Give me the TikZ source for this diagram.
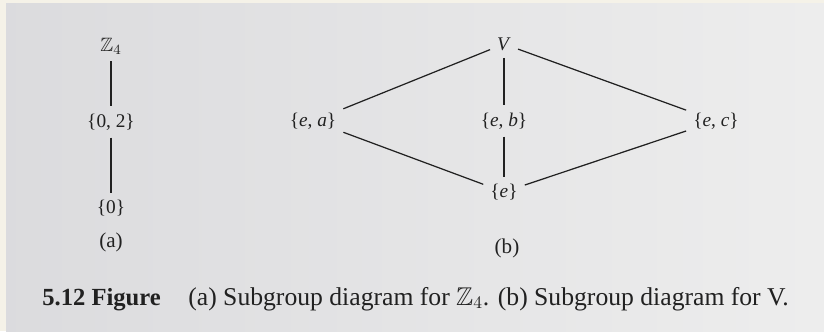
\documentclass[tikz,border=0pt]{standalone}
\usepackage{amssymb}
\usepackage{fontspec}
\setmainfont{Liberation Serif}
\usetikzlibrary{positioning}
\definecolor{pagegray}{rgb}{0.86,0.86,0.87}
\definecolor{pagelight}{rgb}{0.93,0.93,0.93}
\definecolor{edgecream}{rgb}{0.96,0.95,0.91}
\definecolor{ink}{rgb}{0.13,0.13,0.13}

\begin{document}
\begin{tikzpicture}[x=0.02cm,y=-0.02cm,font=\fontsize{11}{13}\selectfont,
  g/.style={text=ink,inner sep=2pt},
  e/.style={draw=ink,line width=0.7pt,shorten >=2pt,shorten <=2pt}]
\useasboundingbox (0,0) rectangle (824,331);
\fill[edgecream] (0,0) rectangle (824,331);
\shade[left color=pagegray,right color=pagelight] (6,4) rectangle (824,331);
% (a) subgroups of Z_4
\node[g] (z4) at (111,46) {$\mathbb{Z}_4$};
\node[g] (z02) at (111,122) {\{0, 2\}};
\node[g] (z0) at (111,208) {\{0\}};
\node[g,font=\fontsize{12}{14}\selectfont] (la) at (111,242) {(a)};
\draw[e] (z4) -- (z02);
\draw[e] (z02) -- (z0);
% (b) subgroups of V
\node[g] (v) at (504,44) {\textit{V}};
\node[g] (ea) at (313,121) {\{\textit{e}, \textit{a}\}};
\node[g] (eb) at (504,121) {\{\textit{e}, \textit{b}\}};
\node[g] (ec) at (716,121) {\{\textit{e}, \textit{c}\}};
\node[g] (e) at (504,192) {\{\textit{e}\}};
\node[g,font=\fontsize{12}{14}\selectfont] (lb) at (507,248) {(b)};
\foreach \s in {ea,eb,ec}{
  \draw[e] (v) -- (\s);
  \draw[e] (\s) -- (e);
}
% caption
\node[g,inner sep=0pt,anchor=base west,font=\fontsize{14}{16}\selectfont\bfseries] (fig) at (42,305) {5.12 Figure};
\node[g,inner sep=0pt,anchor=base west,font=\fontsize{14.6}{17}\selectfont] (cap) at (188,305)
  {(a) Subgroup diagram for $\mathbb{Z}_4$. (b) Subgroup diagram for V.};
\end{tikzpicture}
\end{document}
